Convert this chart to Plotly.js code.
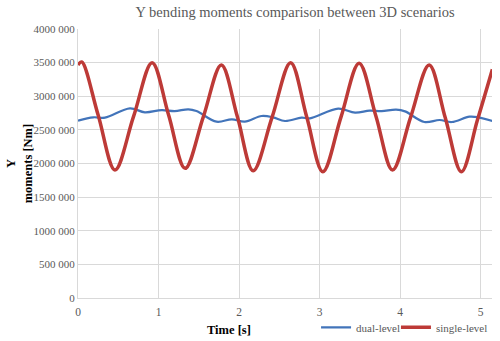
<!DOCTYPE html>
<html><head><meta charset="utf-8">
<script src="https://cdn.plot.ly/plotly-3.0.1.min.js"></script>
<style>html,body{margin:0;padding:0;background:#fff}#chart{width:500px;height:341px}</style>
</head><body><div id="chart"></div>
<script>
// single-level (red) read points: time [s], moment [Nm]
const singleT = [0, 0.046, 0.25, 0.459, 0.69, 0.92, 1.125, 1.33, 1.555, 1.78, 1.98, 2.175, 2.41, 2.64, 2.84, 3.04, 3.265, 3.49, 3.7, 3.905, 4.13, 4.36, 4.56, 4.76, 4.96, 5.145];
const singleY = [3465000, 3510000, 2720000, 1903000, 2700000, 3500000, 2720000, 1928000, 2690000, 3465000, 2690000, 1893000, 2690000, 3500000, 2690000, 1878000, 2690000, 3490000, 2700000, 1903000, 2690000, 3465000, 2680000, 1878000, 2650000, 3400000];
// dual-level (blue) read points
const dualT = [0, 0.19, 0.335, 0.645, 0.83, 1.04, 1.2, 1.37, 1.47, 1.72, 1.91, 2.07, 2.28, 2.42, 2.57, 2.775, 2.88, 3.23, 3.44, 3.62, 3.77, 3.95, 4.06, 4.3, 4.49, 4.64, 4.86, 4.97, 5.145];
const dualY = [2637000, 2687000, 2681000, 2820000, 2761000, 2795000, 2780000, 2806000, 2780000, 2622000, 2657000, 2622000, 2706000, 2687000, 2632000, 2681000, 2672000, 2815000, 2756000, 2785000, 2780000, 2800000, 2775000, 2617000, 2647000, 2617000, 2696000, 2687000, 2632000];
const yTickVals = [0, 500000, 1000000, 1500000, 2000000, 2500000, 3000000, 3500000, 4000000];
const yTickText = ["0", "500 000", "1000 000", "1500 000", "2000 000", "2500 000", "3000 000", "3500 000", "4000 000"];
const xTickVals = [0, 1, 2, 3, 4, 5];

const serif = "Liberation Serif";
const traces = [
  {x: dualT, y: dualY, name: "dual-level", mode: "lines", legend: "legend", line: {color: "#4274BA", width: 2.2, shape: "spline", smoothing: 1}},
  {x: singleT, y: singleY, name: "single-level", mode: "lines", legend: "legend2", line: {color: "#BD3A37", width: 3.5, shape: "spline", smoothing: 1}}
];
const legendBase = {orientation: "h", xanchor: "left", y: -0.055, yanchor: "top", font: {family: serif, size: 11, color: "#595959"}, bgcolor: "rgba(0,0,0,0)", itemwidth: 30};
const layout = {
  width: 500, height: 341,
  margin: {l: 78, r: 8, t: 29, b: 43, autoexpand: false},
  paper_bgcolor: "#fff", plot_bgcolor: "#fff",
  font: {family: serif, color: "#595959", size: 11},
  title: {text: "Y bending moments comparison between 3D scenarios", x: 0.59, xanchor: "center", y: 0.965, yanchor: "middle", font: {family: serif, size: 14.5, color: "#595959"}},
  xaxis: {range: [0, 5.14], tickvals: xTickVals, ticktext: xTickVals.map(String), showgrid: true, gridcolor: "#d9d9d9", gridwidth: 1, showline: true, linecolor: "#d9d9d9", zeroline: false, ticks: "", ticklen: 0, ticklabelstandoff: 3, tickfont: {family: serif, size: 11.5, color: "#595959"}, automargin: false, fixedrange: true},
  yaxis: {range: [0, 4000000], tickvals: yTickVals, ticktext: yTickText, showgrid: true, gridcolor: "#d9d9d9", gridwidth: 1, showline: true, linecolor: "#d9d9d9", zeroline: false, ticks: "", ticklen: 0, tickfont: {family: serif, size: 11, color: "#595959"}, automargin: false, fixedrange: true},
  showlegend: true,
  legend: Object.assign({}, legendBase, {x: 0.575}),
  legend2: Object.assign({}, legendBase, {x: 0.768}),
  annotations: [
    {text: "<b>Time [s]</b>", xref: "paper", yref: "paper", x: 0.365, y: -0.085, xanchor: "center", yanchor: "top", showarrow: false, font: {family: serif, size: 12.5, color: "#000"}},
    {text: "<b>Y<br>moments [Nm]</b>", xref: "paper", yref: "paper", x: -0.143, y: 0.5, xanchor: "center", yanchor: "middle", textangle: -90, showarrow: false, font: {family: serif, size: 12.5, color: "#000"}}
  ]
};
Plotly.newPlot("chart", traces, layout, {displayModeBar: false, staticPlot: true});
</script></body></html>
